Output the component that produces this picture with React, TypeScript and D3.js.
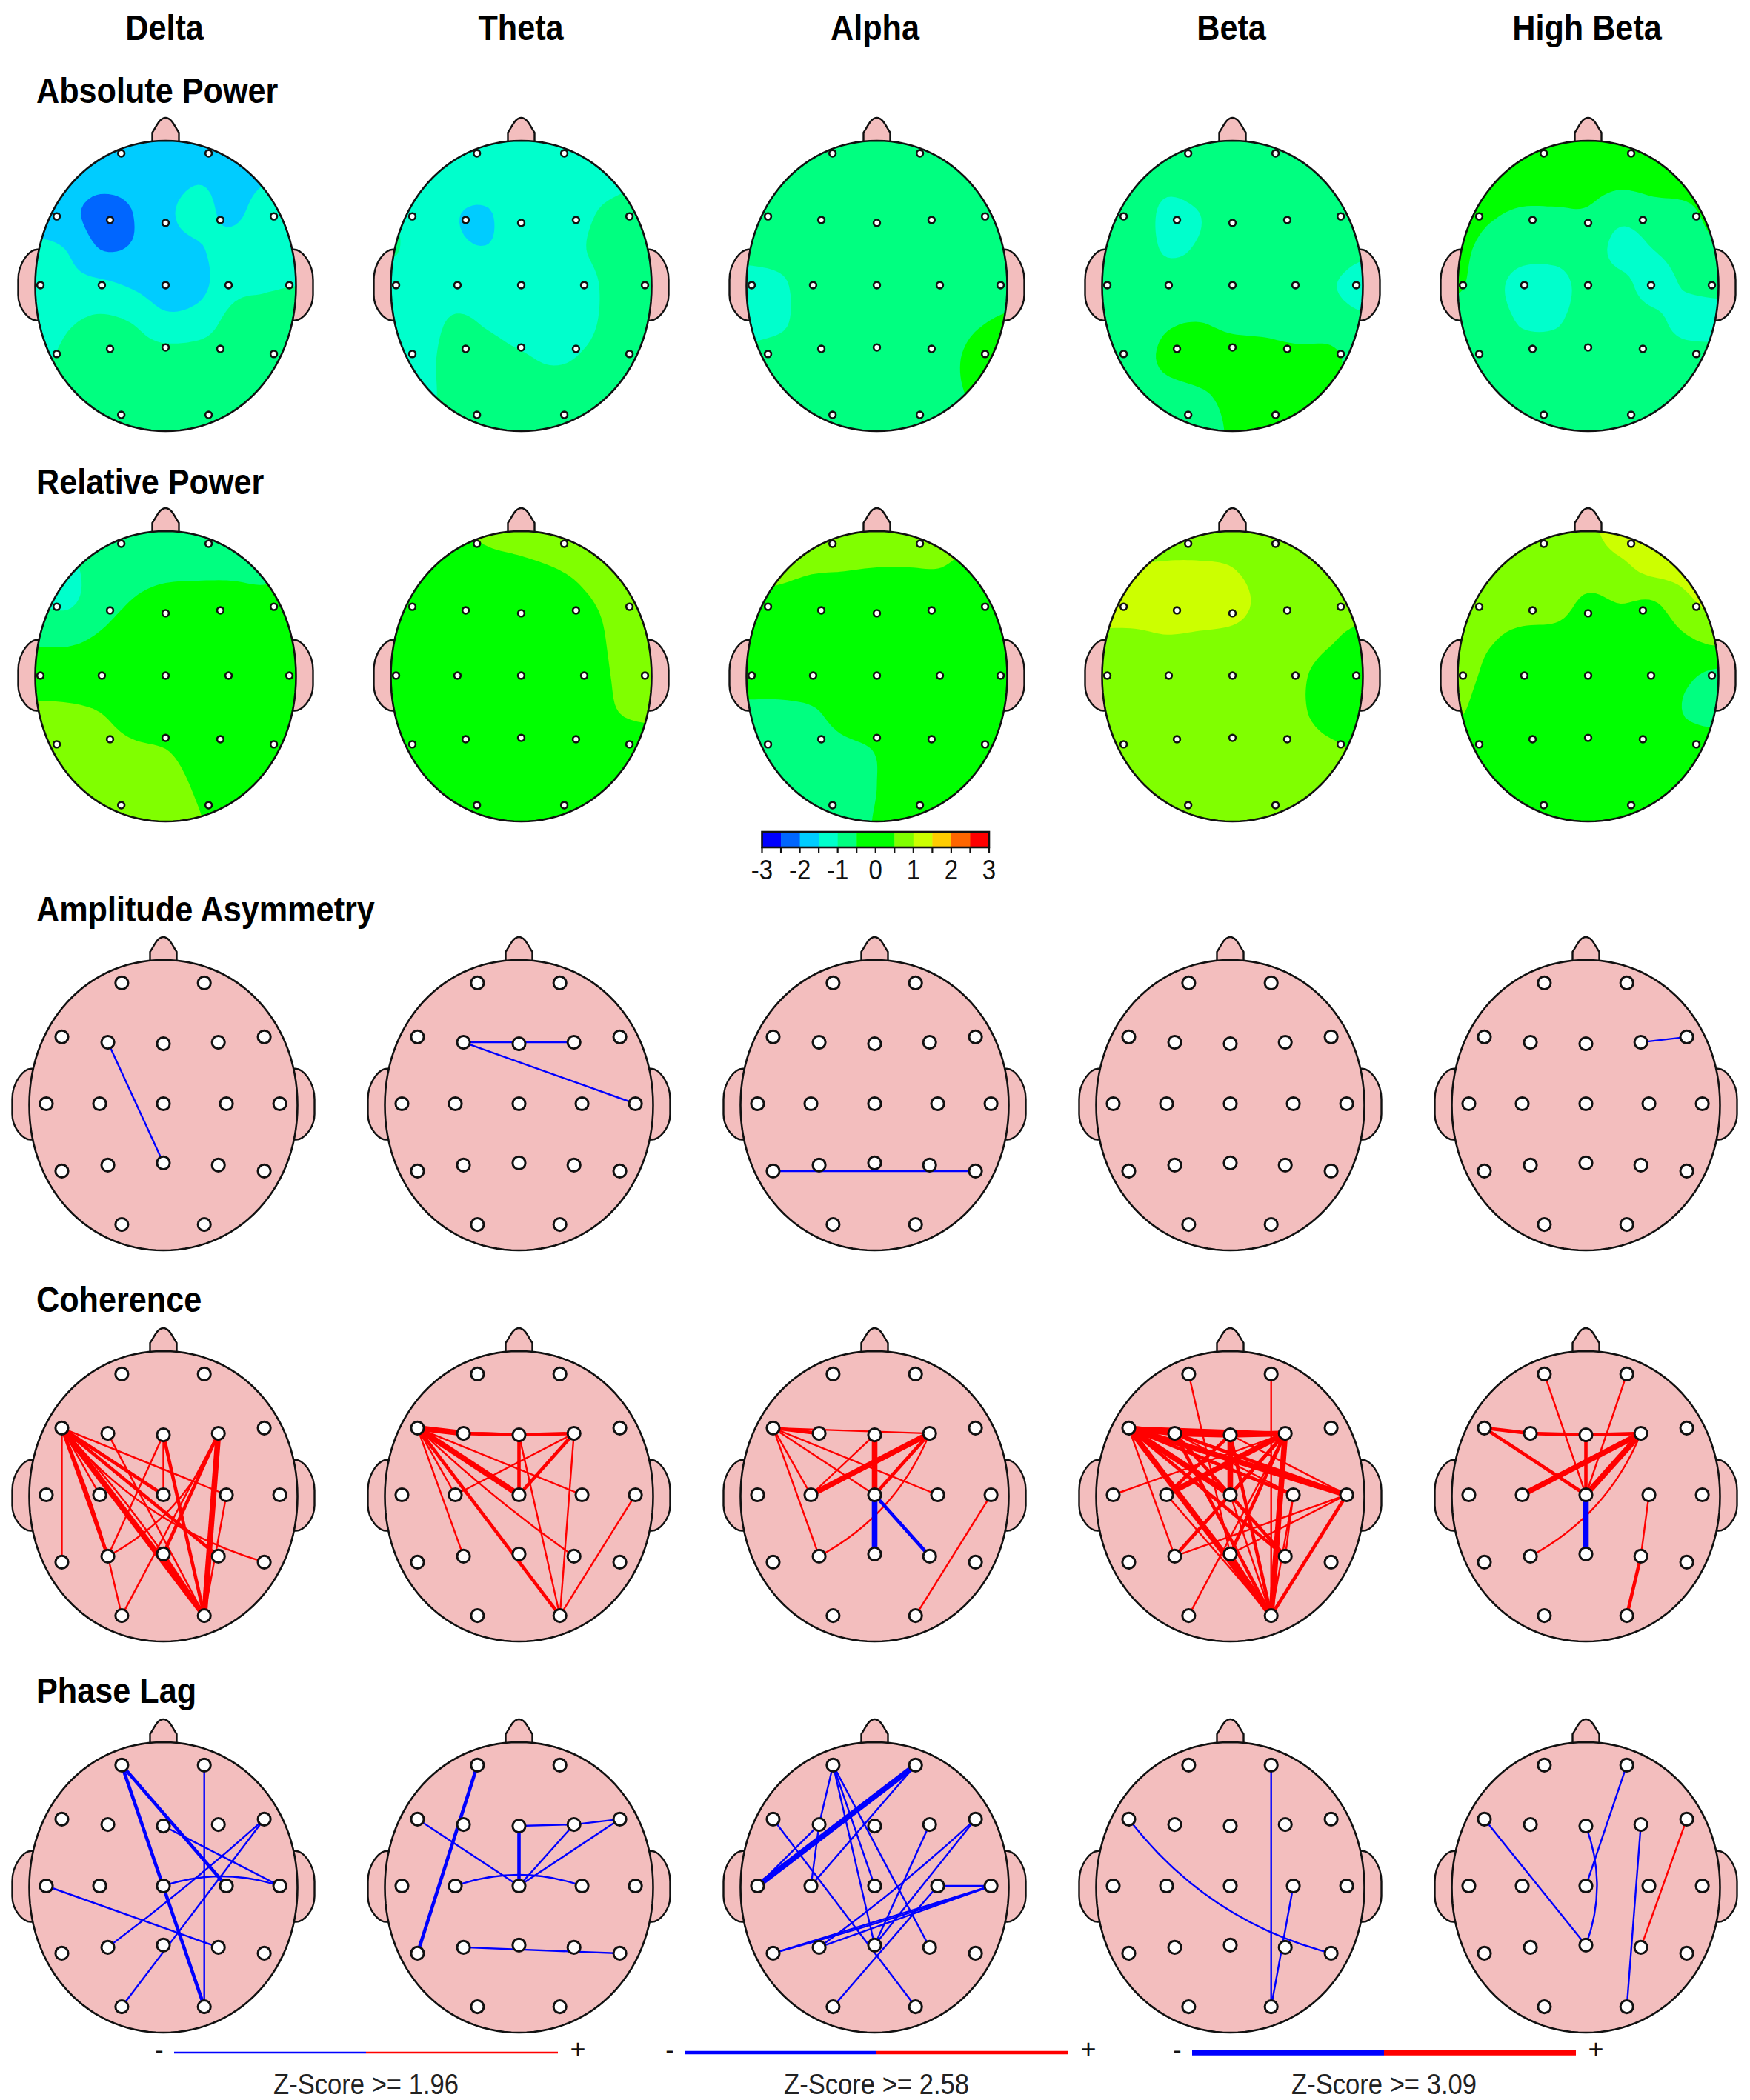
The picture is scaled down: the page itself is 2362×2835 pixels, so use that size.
import React from "react";
import * as d3 from "d3";

const W = 2362, H = 2835;
const bands = ["Delta", "Theta", "Alpha", "Beta", "High Beta"];
const rowTitles = ["Absolute Power", "Relative Power", "Amplitude Asymmetry", "Coherence", "Phase Lag"];
const bandTitleX = [222, 703, 1181, 1662, 2142];
const colorTicks = [-3, -2.5, -2, -1.5, -1, -0.5, 0, 0.5, 1, 1.5, 2, 2.5, 3];
const colorLabels = [-3, -2, -1, 0, 1, 2, 3];
const thresholds = [-2.5, -2, -1.5, -1, -0.5, 0, 0.5, 1, 1.5, 2, 2.5];
const bandColors = ["#0000ff", "#0066ff", "#00ccff", "#00ffcc", "#00ff80", "#00ff00", "#00ff00", "#80ff00", "#ccff00", "#ffcc00", "#ff6600", "#ff0000"];
const zLabels = ["Z-Score >= 1.96", "Z-Score >= 2.58", "Z-Score >= 3.09"];

const electrodes = ["Fp1", "Fp2", "F7", "F3", "Fz", "F4", "F8", "T3", "C3", "Cz", "C4", "T4", "T5", "P3", "Pz", "P4", "T6", "O1", "O2"];
const linkX = [-0.31, 0.305, -0.757, -0.414, 0, 0.41, 0.752, -0.873, -0.475, 0, 0.47, 0.868, -0.757, -0.414, 0, 0.41, 0.752, -0.31, 0.305];
const linkY = [-0.832, -0.832, -0.46, -0.423, -0.413, -0.423, -0.46, 0, 0, 0, 0, 0, 0.464, 0.423, 0.408, 0.423, 0.464, 0.832, 0.832];
const powerX = [-0.34, 0.33, -0.835, -0.426, 0, 0.42, 0.83, -0.96, -0.489, 0, 0.483, 0.949, -0.835, -0.426, 0, 0.42, 0.83, -0.34, 0.33];
const powerY = [-0.908, -0.908, -0.474, -0.449, -0.429, -0.449, -0.474, 0, 0, 0, 0, 0, 0.474, 0.439, 0.429, 0.439, 0.474, 0.893, 0.893];

// power maps: z-score read on a 9x9 lattice over each head
const absDelta = [
  [-1.75, -1.75, -1.75, -1.75, -1.75, -1.75, -1.75, -1.7, -1.6],
  [-1.7, -1.7, -1.8, -1.8, -1.7, -1.55, -1.65, -1.55, -1.3],
  [-1.7, -1.85, -2.2, -2.0, -1.6, -1.35, -1.6, -1.3, -1.2],
  [-1.4, -1.52, -2.0, -1.95, -1.7, -1.55, -1.3, -1.2, -1.15],
  [-1.3, -1.35, -1.38, -1.55, -1.75, -1.65, -1.15, -1.05, -1.0],
  [-1.25, -1.05, -0.92, -1.02, -1.35, -1.25, -0.88, -0.8, -0.8],
  [-1.1, -0.9, -0.8, -0.8, -0.8, -0.8, -0.8, -0.8, -0.8],
  [-0.8, -0.8, -0.8, -0.8, -0.8, -0.8, -0.8, -0.8, -0.8],
  [-0.8, -0.8, -0.8, -0.8, -0.8, -0.8, -0.8, -0.8, -0.8],
];
const absTheta = [
  [-1.2, -1.2, -1.2, -1.2, -1.2, -1.2, -1.2, -1.2, -1.2],
  [-1.2, -1.2, -1.3, -1.3, -1.2, -1.15, -1.15, -1.1, -1.0],
  [-1.0, -1.25, -1.48, -1.52, -1.25, -1.25, -1.05, -0.9, -0.85],
  [-0.95, -1.2, -1.42, -1.48, -1.3, -1.2, -1.0, -0.85, -0.85],
  [-1.2, -1.2, -1.2, -1.25, -1.3, -1.25, -1.1, -0.85, -0.8],
  [-1.2, -1.15, -0.95, -1.05, -1.2, -1.25, -1.08, -0.85, -0.8],
  [-1.2, -1.1, -0.85, -0.85, -0.95, -1.05, -0.95, -0.8, -0.8],
  [-1.15, -1.1, -0.85, -0.8, -0.8, -0.8, -0.8, -0.8, -0.8],
  [-1.1, -1.05, -0.9, -0.8, -0.8, -0.8, -0.8, -0.8, -0.8],
];
const absAlpha = [
  [-0.75, -0.75, -0.75, -0.75, -0.75, -0.75, -0.75, -0.75, -0.75],
  [-0.75, -0.75, -0.75, -0.75, -0.75, -0.75, -0.75, -0.75, -0.75],
  [-0.75, -0.75, -0.75, -0.75, -0.75, -0.75, -0.75, -0.75, -0.75],
  [-0.85, -0.8, -0.75, -0.75, -0.75, -0.75, -0.75, -0.75, -0.75],
  [-1.2, -1.1, -0.75, -0.75, -0.75, -0.75, -0.75, -0.75, -0.65],
  [-1.2, -1.1, -0.75, -0.75, -0.75, -0.75, -0.75, -0.55, -0.45],
  [-0.85, -0.75, -0.75, -0.75, -0.75, -0.75, -0.65, -0.4, -0.35],
  [-0.75, -0.75, -0.75, -0.75, -0.75, -0.75, -0.65, -0.45, -0.4],
  [-0.75, -0.75, -0.75, -0.75, -0.75, -0.75, -0.75, -0.6, -0.6],
];
const absBeta = [
  [-0.75, -0.75, -0.75, -0.75, -0.75, -0.75, -0.75, -0.75, -0.75],
  [-0.75, -0.75, -0.85, -0.75, -0.75, -0.75, -0.75, -0.75, -0.75],
  [-0.75, -0.75, -1.1, -1.0, -0.75, -0.75, -0.75, -0.75, -0.75],
  [-0.75, -0.75, -1.05, -0.95, -0.75, -0.75, -0.75, -0.75, -0.9],
  [-0.75, -0.75, -0.75, -0.75, -0.75, -0.75, -0.75, -0.95, -1.2],
  [-0.75, -0.75, -0.55, -0.5, -0.6, -0.65, -0.75, -0.75, -0.9],
  [-0.75, -0.7, -0.4, -0.3, -0.3, -0.3, -0.35, -0.4, -0.7],
  [-0.75, -0.75, -0.65, -0.55, -0.4, -0.35, -0.35, -0.55, -0.75],
  [-0.75, -0.75, -0.75, -0.7, -0.45, -0.45, -0.55, -0.75, -0.75],
];
const absHighBeta = [
  [-0.3, -0.3, -0.3, -0.3, -0.3, -0.3, -0.3, -0.3, -0.3],
  [-0.3, -0.3, -0.3, -0.3, -0.3, -0.35, -0.3, -0.3, -0.3],
  [-0.3, -0.45, -0.55, -0.55, -0.55, -0.85, -0.7, -0.6, -0.35],
  [-0.4, -0.65, -0.8, -0.8, -0.75, -1.15, -1.0, -0.75, -0.55],
  [-0.45, -0.8, -1.2, -1.2, -0.8, -0.85, -1.2, -0.95, -0.85],
  [-0.7, -0.75, -1.05, -1.05, -0.75, -0.75, -0.85, -1.2, -1.2],
  [-0.75, -0.75, -0.75, -0.75, -0.75, -0.75, -0.75, -0.75, -0.8],
  [-0.75, -0.75, -0.75, -0.75, -0.75, -0.75, -0.75, -0.75, -0.75],
  [-0.75, -0.75, -0.75, -0.75, -0.75, -0.75, -0.75, -0.75, -0.75],
];
const relDelta = [
  [-0.75, -0.75, -0.75, -0.75, -0.75, -0.75, -0.75, -0.75, -0.75],
  [-1.2, -1.1, -0.8, -0.75, -0.7, -0.7, -0.7, -0.75, -0.6],
  [-1.0, -1.05, -0.75, -0.45, -0.2, -0.1, -0.1, -0.2, 0],
  [-0.6, -0.6, -0.4, -0.1, 0, 0, 0, 0, 0],
  [0, 0, 0, 0, 0, 0, 0, 0, 0],
  [0.7, 0.65, 0.5, 0.2, 0, 0, 0, 0, 0],
  [0.9, 0.9, 0.75, 0.6, 0.5, 0.2, 0, 0, 0],
  [0.9, 0.9, 0.9, 0.85, 0.75, 0.4, 0, 0, 0],
  [0.9, 0.9, 0.9, 0.9, 0.85, 0.55, 0.2, 0, 0],
];
const relTheta = [
  [0, 0, 0.3, 0.7, 0.8, 0.85, 0.85, 0.85, 0.85],
  [0, 0, 0, 0.2, 0.35, 0.5, 0.7, 0.85, 0.85],
  [0, 0, 0, 0, 0, 0, 0.4, 0.75, 0.85],
  [0, 0, 0, 0, 0, 0, 0.1, 0.75, 0.85],
  [0, 0, 0, 0, 0, 0, 0, 0.65, 0.85],
  [0, 0, 0, 0, 0, 0, 0, 0.5, 0.7],
  [0, 0, 0, 0, 0, 0, 0, 0, 0],
  [0, 0, 0, 0, 0, 0, 0, 0, 0],
  [0, 0, 0, 0, 0, 0, 0, 0, 0],
];
const relAlpha = [
  [0.8, 0.8, 0.8, 0.8, 0.8, 0.8, 0.8, 0.8, 0.8],
  [0.75, 0.75, 0.6, 0.55, 0.5, 0.5, 0.5, 0.2, 0],
  [0.4, 0.2, 0, 0, 0, 0, 0, 0, 0],
  [0, 0, 0, 0, 0, 0, 0, 0, 0],
  [0, 0, 0, 0, 0, 0, 0, 0, 0],
  [-0.75, -0.75, -0.6, -0.2, 0, 0, 0, 0, 0],
  [-0.8, -0.8, -0.8, -0.65, -0.45, 0, 0, 0, 0],
  [-0.8, -0.8, -0.8, -0.8, -0.5, 0, 0, 0, 0],
  [-0.8, -0.8, -0.8, -0.7, -0.45, 0, 0, 0, 0],
];
const relBeta = [
  [0.8, 0.8, 0.8, 0.8, 0.8, 0.8, 0.8, 0.8, 0.8],
  [0.85, 1.0, 1.05, 1.05, 1.0, 0.8, 0.75, 0.75, 0.75],
  [1.05, 1.2, 1.3, 1.3, 1.2, 0.85, 0.75, 0.75, 0.75],
  [0.95, 0.9, 0.95, 0.9, 0.85, 0.75, 0.75, 0.55, 0.3],
  [0.75, 0.75, 0.75, 0.75, 0.75, 0.75, 0.6, 0.25, 0.1],
  [0.75, 0.75, 0.75, 0.75, 0.75, 0.75, 0.6, 0.25, 0.1],
  [0.75, 0.75, 0.75, 0.75, 0.75, 0.75, 0.75, 0.6, 0.45],
  [0.75, 0.75, 0.75, 0.75, 0.75, 0.75, 0.75, 0.75, 0.75],
  [0.75, 0.75, 0.75, 0.75, 0.75, 0.75, 0.75, 0.75, 0.75],
];
const relHighBeta = [
  [0.8, 0.8, 0.8, 0.8, 0.9, 1.2, 1.2, 1.1, 0.9],
  [0.8, 0.8, 0.8, 0.8, 0.75, 0.9, 1.15, 1.1, 0.9],
  [0.8, 0.8, 0.8, 0.7, 0.4, 0.5, 0.45, 0.9, 1.1],
  [0.75, 0.55, 0.3, 0.3, 0.2, 0.1, 0.1, 0.4, 0.7],
  [0.8, 0.3, 0, 0, 0, 0, 0, -0.35, -0.75],
  [0.6, 0, 0, 0, 0, 0, 0, -0.55, -0.85],
  [0, 0, 0, 0, 0, 0, 0, 0, 0],
  [0, 0, 0, 0, 0, 0, 0, 0, 0],
  [0, 0, 0, 0, 0, 0, 0, 0, 0],
];

// links: from, to, signed significance class (3 = z>=3.09 ... negative = blue), optional bow
type Link = [string, string, number, number?];
const asymDelta: Link[] = [["F3", "Pz", -1]];
const asymTheta: Link[] = [["F3", "F4", -1], ["F3", "T4", -1]];
const asymAlpha: Link[] = [["T5", "T6", -1]];
const asymBeta: Link[] = [];
const asymHighBeta: Link[] = [["F4", "F8", -1]];

const cohDelta: Link[] = [
  ["F7", "T5", 1], ["F7", "P3", 2], ["F7", "P3", 1, 6], ["F7", "C3", 1], ["F7", "Cz", 2], ["F7", "O2", 3], ["F7", "Pz", 1, 8], ["F7", "P4", 2],
  ["F7", "C4", 1], ["F7", "T6", 1, -50], ["F3", "O2", 1], ["Fz", "P3", 1], ["Fz", "Cz", 1], ["Fz", "O2", 2], ["F4", "O2", 3], ["F4", "P3", 1, 40],
  ["F4", "Pz", 2], ["F4", "O1", 1], ["C4", "O2", 1], ["P3", "O1", 1], ["Pz", "O2", 2],
];
const cohTheta: Link[] = [
  ["F7", "F3", 3], ["F3", "Fz", 2], ["F3", "Fz", 1, 3], ["Fz", "F4", 2], ["F7", "Cz", 3], ["F7", "P3", 1], ["F7", "C3", 1], ["F7", "O2", 2], ["F7", "C4", 1],
  ["F7", "P4", 1, -10], ["Fz", "Cz", 2], ["F4", "Cz", 2], ["F4", "C3", 1], ["F4", "O2", 1], ["Fz", "O2", 1], ["T4", "O2", 1],
];
const cohAlpha: Link[] = [
  ["F7", "F3", 2], ["F7", "F4", 1], ["F7", "Cz", 1], ["F7", "C4", 1], ["F7", "C3", 1], ["F7", "P3", 1], ["F4", "C3", 3], ["F4", "Cz", 2], ["F4", "P3", 1, 40],
  ["Fz", "Cz", 3], ["Fz", "C3", 1], ["Cz", "Pz", -3], ["Cz", "P4", -2], ["T4", "O2", 1],
];
const cohBeta: Link[] = [
  ["F7", "F3", 3], ["F3", "Fz", 3], ["Fz", "F4", 3], ["F7", "F4", 2], ["F7", "Cz", 3], ["F7", "O2", 3], ["F7", "P3", 1], ["F7", "T4", 3], ["F7", "C4", 2],
  ["F3", "C4", 1], ["F3", "T4", 2], ["F3", "O2", 2], ["F3", "P4", 2], ["F7", "P4", 2], ["Fp1", "Pz", 1], ["Fp2", "O2", 1], ["T3", "F4", 1], ["C3", "F4", 3],
  ["F4", "O2", 3], ["F4", "P3", 2], ["F4", "Pz", 2], ["F4", "Cz", 2], ["Fz", "Cz", 3], ["T4", "O2", 2], ["T4", "P3", 1], ["T4", "Pz", 1], ["C4", "O2", 1],
  ["C3", "O2", 1], ["Pz", "O2", 2], ["Fz", "O2", 2], ["Cz", "O2", 1], ["F4", "O1", 1], ["C4", "P4", 1], ["Fz", "T4", 1], ["Fz", "C3", 2],
];
const cohHighBeta: Link[] = [
  ["Fp1", "Cz", 1], ["Fp2", "Cz", 1], ["F7", "F3", 2], ["F3", "Fz", 2], ["Fz", "F4", 2], ["F7", "Cz", 2], ["C3", "F4", 3], ["F4", "Cz", 3], ["Fz", "Cz", 2],
  ["F4", "P3", 1, 40], ["Cz", "Pz", -3], ["C4", "P4", 1], ["P4", "O2", 2],
];

const lagDelta: Link[] = [
  ["Fp1", "C4", -2], ["Fp1", "O2", -2], ["Fp2", "O2", -1], ["F8", "P3", -1, 6], ["F8", "O1", -1], ["T3", "P4", -1], ["Cz", "T4", -1, 26], ["Fz", "T4", -1],
];
const lagTheta: Link[] = [
  ["Fp1", "T5", -2], ["F7", "Cz", -1], ["Fz", "F4", -1], ["F4", "F8", -1], ["Fz", "Cz", -2], ["F4", "Cz", -1], ["F8", "Cz", -1], ["C3", "C4", -1, 30], ["P3", "T6", -1],
];
const lagAlpha: Link[] = [
  ["Fp2", "T3", -3], ["Fp2", "C3", -1], ["Fp1", "F3", -1], ["F3", "C3", -1], ["F3", "T3", -1], ["F7", "O2", -1], ["Fp1", "Cz", -1], ["Fp1", "Pz", -1], ["Fp1", "P4", -1],
  ["F4", "Pz", -1], ["F8", "P3", -1, 8], ["F8", "Pz", -1], ["T4", "C4", -1], ["T4", "T5", -1], ["T4", "T5", -1, 5], ["T4", "P3", -1], ["O1", "C4", -1],
];
const lagBeta: Link[] = [["F7", "T6", -1, -56], ["Fp2", "O2", -1], ["C4", "O2", -1]];
const lagHighBeta: Link[] = [
  ["F7", "Pz", -1], ["Fz", "Pz", -1, 30], ["Fp2", "Cz", -1], ["F4", "O2", -1], ["F8", "P4", 1],
];

const powerRows = [
  [absDelta, absTheta, absAlpha, absBeta, absHighBeta],
  [relDelta, relTheta, relAlpha, relBeta, relHighBeta],
];
const linkRows = [
  [asymDelta, asymTheta, asymAlpha, asymBeta, asymHighBeta],
  [cohDelta, cohTheta, cohAlpha, cohBeta, cohHighBeta],
  [lagDelta, lagTheta, lagAlpha, lagBeta, lagHighBeta],
];

// layout
const powerCols = d3.scalePoint<number>().domain([0, 1, 2, 3, 4]).range([223.5, 2143.5]);
const linkCols = d3.scalePoint<number>().domain([0, 1, 2, 3, 4]).range([220.5, 2140.5]);
const powerCz = [385, 912];
const linkCz = [1490, 2018, 2546];
const widths = [2.4, 4.6, 7.6];
const FONT = "'Liberation Sans', Arial, sans-serif";
const PINK = "#f3bebe";
const legendCenters = [494, 1183, 1868];
const legendHalf = 259;

const outline = (cx: number, cy: number, rx: number, ry: number) => {
  const n = 2.05;
  const pts = d3.range(0, 361, 3).map(deg => {
    const t = (deg * Math.PI) / 180, c = Math.cos(t), s = Math.sin(t);
    return [cx + Math.sign(c) * rx * Math.abs(c) ** (2 / n), cy + Math.sign(s) * ry * Math.abs(s) ** (2 / n)] as [number, number];
  });
  return d3.line()(pts) + "Z";
};

const furniture = (cx: number, cy: number, rx: number, ry: number) => {
  const top = cy - ry;
  const nose = d3.path();
  nose.moveTo(cx - 18, top + 5);
  nose.lineTo(cx - 18, top - 11);
  nose.bezierCurveTo(cx - 12, top - 20, cx - 8, top - 31, cx, top - 31);
  nose.bezierCurveTo(cx + 8, top - 31, cx + 12, top - 20, cx + 18, top - 11);
  nose.lineTo(cx + 18, top + 5);
  nose.closePath();
  const ear = (s: number) => {
    const p = d3.path();
    const e0 = cx + s * (rx - 6), e1 = cx + s * (rx + 23);
    p.moveTo(e0, cy - 49);
    p.bezierCurveTo(cx + s * (rx + 8), cy - 52, e1, cy - 30, e1, cy - 8);
    p.lineTo(e1, cy + 12);
    p.bezierCurveTo(e1, cy + 30, cx + s * (rx + 8), cy + 50, e0, cy + 46);
    p.closePath();
    return p.toString();
  };
  return (
    <g fill={PINK} stroke="#111" strokeWidth={2.4}>
      <path d={nose.toString()} />
      <path d={ear(-1)} />
      <path d={ear(1)} />
    </g>
  );
};

const upsample = (g: number[][], k: number) => {
  const n = g.length, N = (n - 1) * k + 1;
  const cr = (a: number, b: number, c: number, d: number, t: number) =>
    0.5 * (2 * b + (c - a) * t + (2 * a - 5 * b + 4 * c - d) * t * t + (3 * b - a - 3 * c + d) * t * t * t);
  const at = (r: number, c: number) => g[Math.max(0, Math.min(n - 1, r))][Math.max(0, Math.min(n - 1, c))];
  const out: number[] = [];
  for (let j = 0; j < N; j++) {
    const r = Math.floor(j / k), v = j / k - r;
    for (let i = 0; i < N; i++) {
      const c = Math.floor(i / k), u = i / k - c;
      const col = [-1, 0, 1, 2].map(dr => cr(at(r + dr, c - 1), at(r + dr, c), at(r + dr, c + 1), at(r + dr, c + 2), u));
      out.push(cr(col[0], col[1], col[2], col[3], v));
    }
  }
  return { values: out, N };
};

const PowerHead = ({ grid, cx, cz, id }: { grid: number[][]; cx: number; cz: number; id: string }) => {
  const rx = 176, ry = 196, cy = cz + 1;
  const x = d3.scaleLinear().domain([-1, 1]).range([cx - rx, cx + rx]);
  const y = d3.scaleLinear().domain([-1, 1]).range([cz - ry, cz + ry]);
  const { values, N } = upsample(grid, 8);
  const gx = d3.scaleLinear().domain([0.5, N - 0.5]).range([cx - rx, cx + rx]);
  const gy = d3.scaleLinear().domain([0.5, N - 0.5]).range([cy - ry, cy + ry]);
  const proj = d3.geoTransform({ point(a, b) { this.stream.point(gx(a), gy(b)); } });
  const path = d3.geoPath(proj);
  const contours = d3.contours().size([N, N]).thresholds(thresholds)(values);
  const d = outline(cx, cy, rx, ry);
  return (
    <g>
      {furniture(cx, cy, rx, ry)}
      <clipPath id={id}><path d={d} /></clipPath>
      <g clipPath={`url(#${id})`}>
        <rect x={cx - rx} y={cy - ry} width={2 * rx} height={2 * ry} fill={bandColors[0]} />
        {contours.map((c, i) => <path key={i} d={path(c as any) ?? ""} fill={bandColors[i + 1]} />)}
      </g>
      <path d={d} fill="none" stroke="#111" strokeWidth={2.6} />
      {electrodes.map((e, i) => (
        <circle key={e} cx={x(powerX[i])} cy={y(powerY[i])} r={4.4} fill="#fff" stroke="#111" strokeWidth={2.6} />
      ))}
    </g>
  );
};

const LinkHead = ({ links, cx, cz }: { links: Link[]; cx: number; cz: number }) => {
  const rx = 181, ry = 196, cy = cz + 2;
  const x = d3.scaleLinear().domain([-1, 1]).range([cx - rx, cx + rx]);
  const y = d3.scaleLinear().domain([-1, 1]).range([cz - ry, cz + ry]);
  const px = (n: string) => x(linkX[electrodes.indexOf(n)]);
  const py = (n: string) => y(linkY[electrodes.indexOf(n)]);
  const linkPath = ([a, b, , bow]: Link) => {
    const x0 = px(a), y0 = py(a), x1 = px(b), y1 = py(b);
    const p = d3.path();
    p.moveTo(x0, y0);
    if (bow) {
      const dx = x1 - x0, dy = y1 - y0, len = Math.hypot(dx, dy);
      p.quadraticCurveTo((x0 + x1) / 2 + (dy / len) * bow, (y0 + y1) / 2 - (dx / len) * bow, x1, y1);
    } else p.lineTo(x1, y1);
    return p.toString();
  };
  return (
    <g>
      {furniture(cx, cy, rx, ry)}
      <path d={outline(cx, cy, rx, ry)} fill={PINK} stroke="#111" strokeWidth={2.6} />
      {links.map((l, i) => (
        <path key={i} d={linkPath(l)} fill="none" stroke={l[2] > 0 ? "#ff0000" : "#0000ff"} strokeWidth={widths[Math.abs(l[2]) - 1]} />
      ))}
      {electrodes.map(e => (
        <circle key={e} cx={px(e)} cy={py(e)} r={8.6} fill="#fff" stroke="#111" strokeWidth={3} />
      ))}
    </g>
  );
};

export default function App() {
  const bar = d3.scaleLinear().domain([-3, 3]).range([1028.5, 1335]);
  const barTop = 1123, barBottom = 1144;
  const rowTitleY = [139, 667, 1244, 1771, 2299];
  return (
    <svg width={W} height={H} viewBox={`0 0 ${W} ${H}`} style={{ position: "absolute", left: 0, top: 0, display: "block", background: "#fff" }} fontFamily={FONT}>
      {bands.map((b, i) => (
        <text key={b} transform={`translate(${bandTitleX[i]},54) scale(1,1.1)`} textAnchor="middle" fontWeight="bold" fontSize={43.2} fill="#000">{b}</text>
      ))}
      {rowTitles.map((t, i) => (
        <text key={t} transform={`translate(49,${rowTitleY[i]}) scale(1,1.1)`} fontWeight="bold" fontSize={43.2} fill="#000">{t}</text>
      ))}
      {powerRows.map((row, r) => row.map((grid, c) => (
        <PowerHead key={`${r}-${c}`} grid={grid} cx={powerCols(c)!} cz={powerCz[r]} id={`clip-${r}-${c}`} />
      )))}
      {linkRows.map((row, r) => row.map((links, c) => (
        <LinkHead key={`${r}-${c}`} links={links} cx={linkCols(c)!} cz={linkCz[r]} />
      )))}
      {d3.pairs(colorTicks).map(([a, b], i) => (
        <rect key={i} x={bar(a)} y={barTop} width={bar(b) - bar(a) + 0.5} height={barBottom - barTop} fill={bandColors[i]} />
      ))}
      <rect x={bar(-3)} y={barTop} width={bar(3) - bar(-3)} height={barBottom - barTop} fill="none" stroke="#111" strokeWidth={2.6} />
      {colorTicks.map(t => <line key={t} x1={bar(t)} x2={bar(t)} y1={barBottom} y2={1151} stroke="#111" strokeWidth={2.2} />)}
      {colorLabels.map(t => (
        <text key={t} transform={`translate(${bar(t)},1187) scale(1,1.12)`} textAnchor="middle" fontSize={33} fill="#111">{t}</text>
      ))}
      {legendCenters.map((c, i) => (
        <g key={c}>
          <line x1={c - legendHalf} x2={c} y1={2771} y2={2771} stroke="#0000ff" strokeWidth={widths[i]} />
          <line x1={c} x2={c + legendHalf} y1={2771} y2={2771} stroke="#ff0000" strokeWidth={widths[i]} />
          <text x={c - legendHalf - 20} y={2779} textAnchor="middle" fontSize={34} fill="#111">-</text>
          <text x={c + legendHalf + 27} y={2779} textAnchor="middle" fontSize={36} fill="#111">+</text>
          <text transform={`translate(${c},2827) scale(1,1.1)`} textAnchor="middle" fontSize={34.6} fill="#222">{zLabels[i]}</text>
        </g>
      ))}
    </svg>
  );
}
